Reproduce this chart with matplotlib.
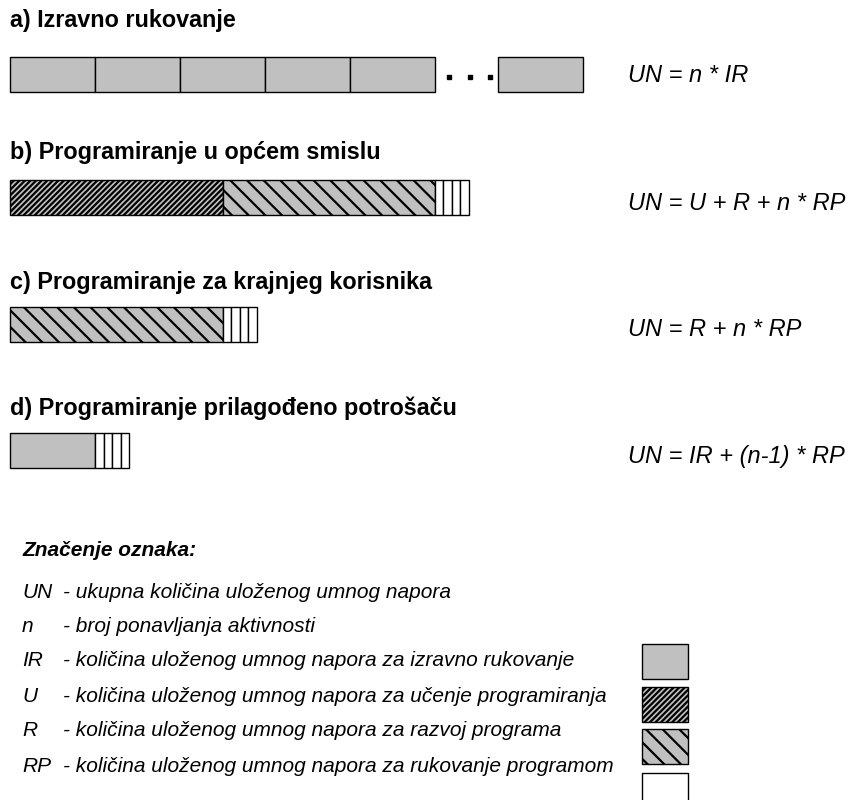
import matplotlib
matplotlib.use('Agg')
import matplotlib.pyplot as plt

plt.rcParams['font.family'] = ['Liberation Sans', 'DejaVu Sans']

# effort units: one IR box = 1.0
IR = 1.0
U = 2.5
R = 2.5
RP = 0.1
n_shown = 5          # boxes before the dots in row a
gap_dots = 0.74      # room left for "..."
n_rp = 4             # RP slices drawn in rows b, c, d

titles = ['a) Izravno rukovanje',
          'b) Programiranje u općem smislu',
          'c) Programiranje za krajnjeg korisnika',
          'd) Programiranje prilagođeno potrošaču']
formulas = ['UN = n * IR',
            'UN = U + R + n * RP',
            'UN = R + n * RP',
            'UN = IR + (n-1) * RP']

legend_keys = ['UN', 'n', 'IR', 'U', 'R', 'RP']
legend_texts = ['- ukupna količina uloženog umnog napora',
                '- broj ponavljanja aktivnosti',
                '- količina uloženog umnog napora za izravno rukovanje',
                '- količina uloženog umnog napora za učenje programiranja',
                '- količina uloženog umnog napora za razvoj programa',
                '- količina uloženog umnog napora za rukovanje programom']

GRAY = '#c0c0c0'
styles = {
    'IR': dict(facecolor=GRAY, hatch=None, hlw=1.0),
    'U': dict(facecolor=GRAY, hatch='//////', hlw=1.6),
    'R': dict(facecolor=GRAY, hatch='\\\\', hlw=1.6),
    'RP': dict(facecolor='white', hatch=None, hlw=1.0),
}

fig = plt.figure(figsize=(8.48, 8.0), dpi=100)
ax = fig.add_axes([0, 0, 1, 1])
px = 85.0  # pixels per effort unit
ax.set_xlim(-10 / px, (848 - 10) / px)
ax.set_ylim(800, 0)
ax.axis('off')

bar_h = 35


def seg(kind, left, width, y, h=bar_h):
    st = styles[kind]
    with plt.rc_context({'hatch.linewidth': st['hlw']}):
        b = ax.barh(y, width, left=left, height=h, color=st['facecolor'],
                    edgecolor='black', linewidth=1.0, hatch=st['hatch'])
    for p in b:
        if hasattr(p, 'set_hatch_linewidth'):
            p.set_hatch_linewidth(st['hlw'])
    return left + width


# row a
y_a = 74
x = 0.0
for i in range(n_shown):
    x = seg('IR', x, IR, y_a)
dots = [x + gap_dots * f for f in (0.22, 0.55, 0.87)]
ax.plot(dots, [y_a + 3] * 3, ls='none', marker='s', ms=3.5, color='black')
seg('IR', x + gap_dots, IR, y_a)

# row b
y_b = 197
x = seg('U', 0.0, U, y_b)
x = seg('R', x, R, y_b)
for i in range(n_rp):
    x = seg('RP', x, RP, y_b)

# row c
y_c = 324
x = seg('R', 0.0, R, y_c)
for i in range(n_rp):
    x = seg('RP', x, RP, y_c)

# row d
y_d = 450
x = seg('IR', 0.0, IR, y_d)
for i in range(n_rp):
    x = seg('RP', x, RP, y_d)

title_y = [20, 153, 282, 408]
form_y = [75, 203, 330, 456]
for t, ty, f, fy in zip(titles, title_y, formulas, form_y):
    ax.text(0, ty, t, fontsize=16.8, fontweight='bold', va='center', ha='left')
    ax.text((628 - 10) / px, fy, f, fontsize=17, style='italic', va='center', ha='left')

# legend
ax.text((22 - 10) / px, 551, 'Značenje oznaka:', fontsize=15, fontweight='bold',
        style='italic', va='center')
leg_y = [592, 627, 661, 696, 731, 766]
for k, t, yy in zip(legend_keys, legend_texts, leg_y):
    ax.text((22 - 10) / px, yy, k, fontsize=15, style='italic', va='center')
    ax.text((63 - 10) / px, yy, t, fontsize=15, style='italic', va='center')

# legend swatches
box_x = (642 - 10) / px
box_w = 46 / px
sw_y = [661, 704, 746, 790]
for kind, yy in zip(['IR', 'U', 'R', 'RP'], sw_y):
    seg(kind, box_x, box_w, yy)

fig.savefig('out.png', dpi=100)
